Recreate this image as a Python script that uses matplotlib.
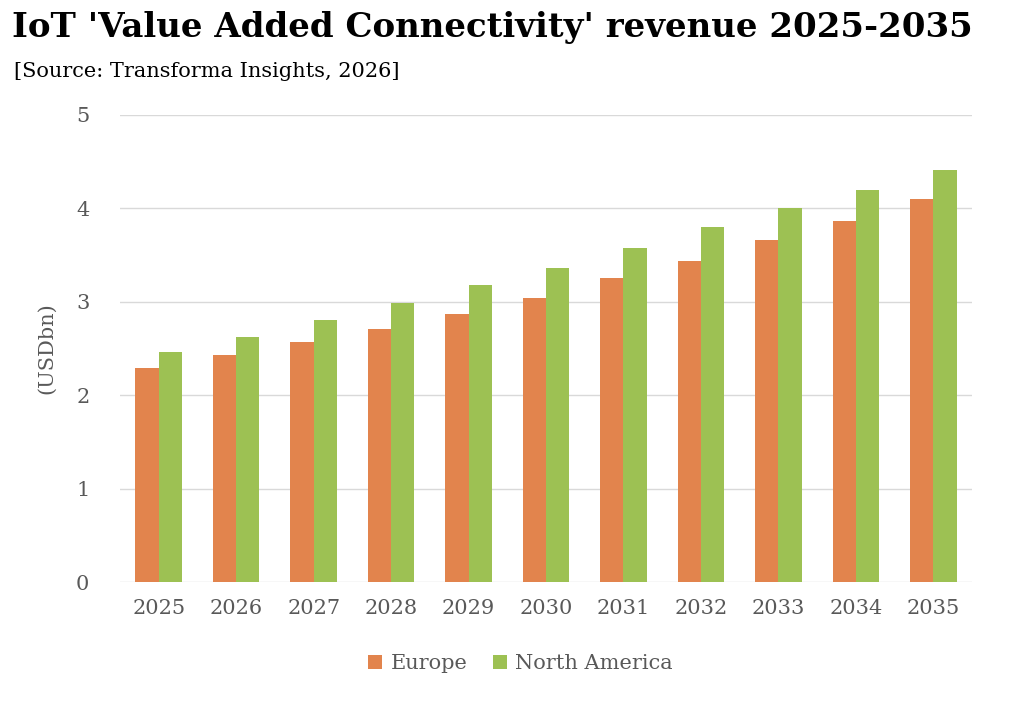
import numpy as np
import matplotlib
matplotlib.use('Agg')
import matplotlib.pyplot as plt

years = ['2025', '2026', '2027', '2028', '2029', '2030', '2031', '2032', '2033', '2034', '2035']
europe = [2.29, 2.43, 2.57, 2.71, 2.87, 3.04, 3.25, 3.44, 3.66, 3.87, 4.10]
north_america = [2.46, 2.62, 2.80, 2.99, 3.18, 3.36, 3.58, 3.80, 4.00, 4.20, 4.41]

plt.rcParams['font.family'] = 'DejaVu Serif'
fig = plt.figure(figsize=(10.24, 7.06), dpi=100)
ax = fig.add_axes([120 / 1024, 1 - 582 / 706, 852 / 1024, 467 / 706])

x = np.arange(len(years))
w = 0.3
ax.bar(x - w / 2, europe, w, color='#E2844D', label='Europe', zorder=3)
ax.bar(x + w / 2, north_america, w, color='#9DC153', label='North America', zorder=3)

ax.set_xlim(-0.5, len(years) - 0.5)
ax.set_ylim(0, 5)
ax.set_yticks(range(6))
ax.set_xticks(x, years)
ax.grid(axis='y', color='#d9d9d9', lw=1, zorder=0)
for s in ax.spines.values():
    s.set_visible(False)
ax.tick_params(length=0, labelsize=15, colors='#595959', pad=12)
ax.tick_params(axis='y', pad=22)
ax.set_ylabel('(USDbn)', fontsize=15, color='#595959', labelpad=14)

fig.text(0.012, 0.985, "IoT 'Value Added Connectivity' revenue 2025-2035",
         fontsize=24.5, fontweight='heavy', va='top')
fig.text(0.014, 0.912, '[Source: Transforma Insights, 2026]', fontsize=15, va='top')
ax.legend(loc='upper center', bbox_to_anchor=(0.47, -0.115), ncol=2, frameon=False,
          fontsize=15, labelcolor='#595959', handlelength=0.7, handleheight=0.7,
          columnspacing=1.2, handletextpad=0.4)

fig.savefig('out.png', dpi=100)
